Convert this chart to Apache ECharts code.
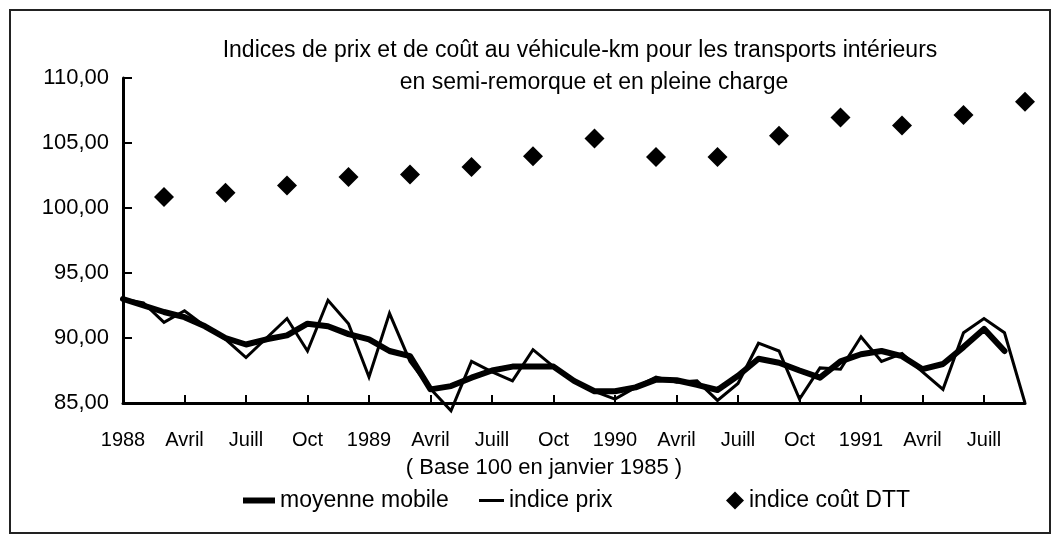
<!DOCTYPE html>
<html>
<head>
<meta charset="utf-8">
<script src="https://cdn.jsdelivr.net/npm/echarts@6/dist/echarts.min.js"></script>
<style>
html,body{margin:0;padding:0;background:#fff;}
#chart{width:1060px;height:544px;}
</style>
</head>
<body>
<div id="chart"></div>
<script>
// ---- Data ----
const categories = [
  '1988','Févr','Mars','Avril','Mai','Juin','Juill','Août','Sept','Oct','Nov','Déc',
  '1989','Févr','Mars','Avril','Mai','Juin','Juill','Août','Sept','Oct','Nov','Déc',
  '1990','Févr','Mars','Avril','Mai','Juin','Juill','Août','Sept','Oct','Nov','Déc',
  '1991','Févr','Mars','Avril','Mai','Juin','Juill','Août','Sept'
];
const movingAverage = [
  93.0, 92.5, 92.0, 91.6, 90.9, 90.0, 89.5, 89.9, 90.2, 91.1, 90.9, 90.3,
  89.9, 89.0, 88.6, 86.05, 86.3, 86.95, 87.5, 87.8, 87.8, 87.8, 86.7, 85.9,
  85.9, 86.2, 86.8, 86.75, 86.4, 86.0, 87.1, 88.4, 88.1, 87.5, 86.95, 88.2,
  88.75, 89.0, 88.6, 87.6, 88.0, 89.3, 90.7, 89.0, null
];
const priceIndex = [
  93.0, 92.7, 91.2, 92.1, 90.9, 89.9, 88.5, 90.0, 91.5, 89.0, 92.9, 91.1,
  87.0, 91.9, 88.2, 86.1, 84.4, 88.2, 87.4, 86.7, 89.1, 87.8, 86.7, 85.9,
  85.3, 86.2, 87.0, 86.6, 86.7, 85.2, 86.5, 89.6, 89.0, 85.3, 87.7, 87.6,
  90.1, 88.2, 88.8, 87.4, 86.05, 90.4, 91.5, 90.4, 85.0
];
const costMonths = [2, 5, 8, 11, 14, 17, 20, 23, 26, 29, 32, 35, 38, 41, 44];
const costIndex = [
  100.84, 101.18, 101.74, 102.38, 102.57, 103.16, 103.98, 105.35,
  103.93, 103.93, 105.55, 106.97, 106.35, 107.15, 108.17
];
const seriesNames = ['moyenne mobile', 'indice prix', 'indice coût DTT'];
const titleLines = [
  'Indices de prix et de coût au véhicule-km pour les transports intérieurs',
  'en semi-remorque et en pleine charge'
];
const baseNote = '( Base 100 en janvier 1985 )';

const FONT = "'Liberation Sans', Arial, Helvetica, sans-serif";
const chart = echarts.init(document.getElementById('chart'), null, {renderer: 'canvas'});

const option = {
  backgroundColor: '#fff',
  animation: false,
  grid: {left: 123, right: 35, top: 78, bottom: 141, containLabel: false},
  graphic: [
    {type: 'rect', shape: {x: 10, y: 10, width: 1040, height: 523},
     style: {fill: 'none', stroke: '#222', lineWidth: 2}, z: 0},
    {type: 'text', style: {text: titleLines[0], x: 580, y: 51, align: 'center', verticalAlign: 'middle',
      font: '23px ' + FONT, fill: '#000'}},
    {type: 'text', style: {text: titleLines[1], x: 594, y: 83, align: 'center', verticalAlign: 'middle',
      font: '23px ' + FONT, fill: '#000'}},
    {type: 'text', style: {text: baseNote, x: 544, y: 468, align: 'center', verticalAlign: 'middle',
      font: '22px ' + FONT, fill: '#000'}}
  ],
  legend: [
    {data: [seriesNames[0]], left: 238, top: 484, icon: 'rect', itemWidth: 32, itemHeight: 6,
     textStyle: {fontFamily: FONT, fontSize: 23, color: '#000'}, selectedMode: false},
    {data: [seriesNames[1]], left: 474, top: 484, icon: 'rect', itemWidth: 25, itemHeight: 3,
     textStyle: {fontFamily: FONT, fontSize: 23, color: '#000'}, selectedMode: false},
    {data: [seriesNames[2]], left: 721, top: 484, icon: 'diamond', itemWidth: 18, itemHeight: 18,
     textStyle: {fontFamily: FONT, fontSize: 23, color: '#000'}, selectedMode: false}
  ],
  xAxis: {
    type: 'category',
    data: categories,
    boundaryGap: false,
    axisLine: {lineStyle: {color: '#000', width: 3}},
    axisTick: {inside: true, length: 8, interval: 2, lineStyle: {color: '#000', width: 2}},
    axisLabel: {interval: 2, color: '#000', fontFamily: FONT, fontSize: 20, margin: 27},
    splitLine: {show: false}
  },
  yAxis: {
    type: 'value',
    min: 85, max: 110, interval: 5,
    axisLine: {show: true, lineStyle: {color: '#000', width: 3}},
    axisTick: {show: true, inside: true, length: 9, lineStyle: {color: '#000', width: 2}},
    axisLabel: {color: '#000', fontFamily: FONT, fontSize: 22, margin: 14,
      formatter: v => v.toFixed(2).replace('.', ',')},
    splitLine: {show: false}
  },
  series: [
    {name: seriesNames[0], type: 'line', data: movingAverage, symbol: 'none', clip: false,
     lineStyle: {color: '#000', width: 6, join: 'round', cap: 'round'}, itemStyle: {color: '#000'}, z: 3},
    {name: seriesNames[1], type: 'line', data: priceIndex, symbol: 'none', clip: false,
     lineStyle: {color: '#000', width: 3, join: 'miter'}, itemStyle: {color: '#000'}, z: 4},
    {name: seriesNames[2], type: 'scatter', symbol: 'diamond', symbolSize: 20,
     data: costMonths.map((m, i) => [m, costIndex[i]]), itemStyle: {color: '#000', opacity: 1}, z: 5}
  ]
};
chart.setOption(option);
</script>
</body>
</html>
